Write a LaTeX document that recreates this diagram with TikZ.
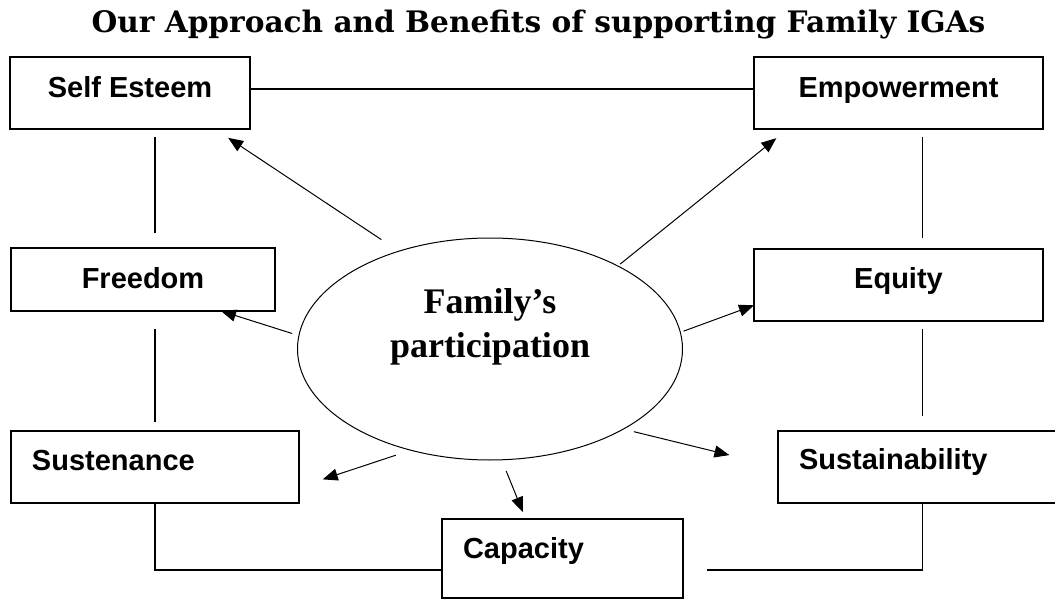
\documentclass[tikz,border=0pt]{standalone}
\usepackage{fontspec}
\setmainfont{Liberation Serif}
\setsansfont{Liberation Sans}
\newfontfamily\slabfont{DejaVu Serif}
\usetikzlibrary{shapes.geometric}
\usetikzlibrary{arrows.meta}

\tikzset{
  benefit/.style={draw, rectangle, line width=0.75pt, inner sep=0pt, outer sep=0pt,
    font=\sffamily\bfseries\fontsize{14.5pt}{17pt}\selectfont, text height=10.4pt},
  leftbenefit/.style={benefit, align=left, inner xsep=10.5pt},
  link/.style={line width=0.6pt},
  feeds/.style={line width=0.5pt, -{Triangle[length=7.5pt,width=6pt]}},
}

\begin{document}
\begin{tikzpicture}[x=0.5pt,y=-0.5pt]
  \useasboundingbox (0,0) rectangle (1055,599);
  \node[font=\slabfont\bfseries\fontsize{14.8pt}{17pt}\selectfont, anchor=base] (title) at (538.5,33) {Our Approach and Benefits of supporting Family IGAs};

  \node[ellipse, draw, line width=0.5pt, outer sep=0pt, inner sep=0pt, minimum width=192.5pt, minimum height=111pt,
    align=center, font=\bfseries\fontsize{18pt}{22pt}\selectfont, text height=35pt, text depth=27pt] (family) at (490,349) {Family’s\\participation};

  \node[benefit, minimum width=120pt, minimum height=36pt, text depth=6pt] (esteem) at (130,93) {Self Esteem};
  \node[benefit, minimum width=144.5pt, minimum height=36pt, text depth=6pt] (power) at (898.5,93) {Empowerment};
  \node[benefit, minimum width=132pt, minimum height=31.5pt, text depth=1.5pt] (freedom) at (143,279.5) {Freedom};
  \node[benefit, minimum width=144.5pt, minimum height=36pt, text depth=7pt] (equity) at (898.5,285) {Equity};
  \node[leftbenefit, text width=123pt, minimum height=36pt, text depth=7pt] (susten) at (155,467) {Sustenance};
  \node[leftbenefit, text width=140pt, minimum height=36pt, text depth=8pt] (sustain) at (939,467) {Sustainability};
  \node[leftbenefit, text width=99.5pt, minimum height=39.5pt, text depth=10.5pt] (capacity) at (562.5,558.5) {Capacity};

  % rails between the boxes
  \draw[link] ([yshift=2pt]esteem.east) -- ([yshift=2pt]power.west);
  \draw[link, shorten <=4pt, shorten >=7.5pt] ([xshift=12.5pt]esteem.south) -- ([xshift=6pt]freedom.north);
  \draw[link, shorten <=9pt, shorten >=4.5pt] ([xshift=6pt]freedom.south) -- (susten.north);
  \draw[link] (susten.south) |- ([yshift=-5.75pt]capacity.west);
  \draw[link, shorten <=4pt, shorten >=5.5pt] ([xshift=12pt]power.south) -- ([xshift=12pt]equity.north);
  \draw[link, shorten <=4pt, shorten >=7.5pt] ([xshift=12pt]equity.south) -- ([xshift=-8.25pt]sustain.north);
  \draw[link, shorten >=12pt] ([xshift=-8.25pt]sustain.south) |- ([yshift=-5.75pt]capacity.east);

  % arrows out of the ellipse
  \draw[feeds, shorten <=10.5pt, shorten >=8pt] (family.133.6) -- (esteem.337);
  \draw[feeds, shorten <=1.5pt, shorten >=7.3pt] (family.33.8) -- (power.198.3);
  \draw[feeds, shorten <=3.5pt] (family.176.5) -- (freedom.338.3);
  \draw[feeds, shorten <=1.75pt] (family.5.7) -- (equity.188.3);
  \draw[feeds, shorten <=8pt, shorten >=12.5pt] (family.232.1) -- (susten.352.6);
  \draw[feeds, shorten <=6pt, shorten >=3.75pt] (family.276.5) -- (capacity.133);
  \draw[feeds, shorten <=5.4pt, shorten >=25pt] (family.329.4) -- (sustain.west);
\end{tikzpicture}
\end{document}
